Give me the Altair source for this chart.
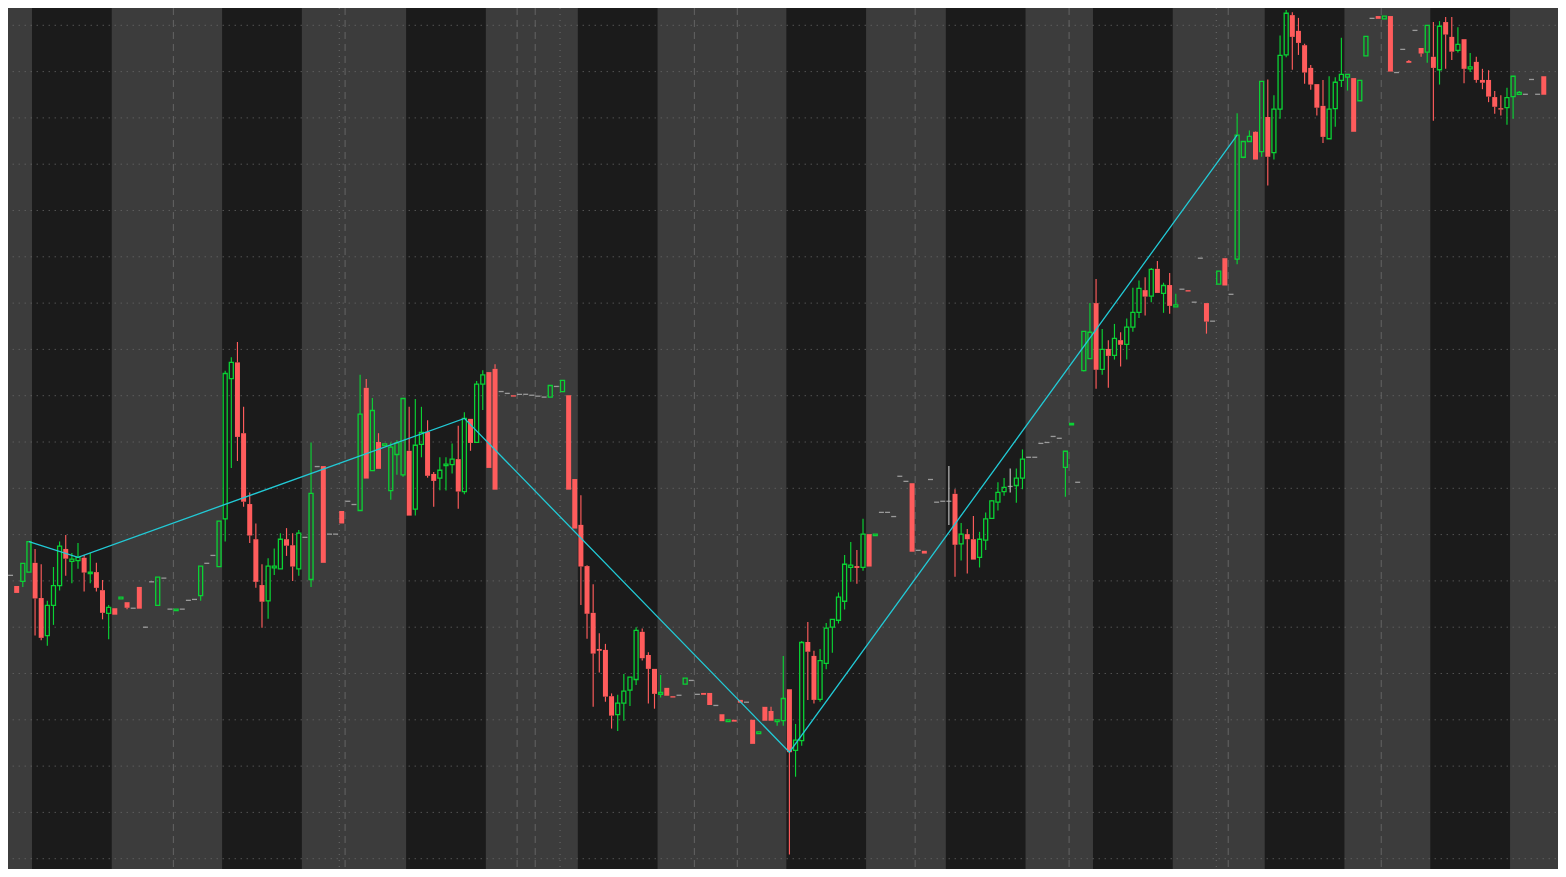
import altair as alt
import pandas as pd
import numpy as np

# ---------------- data (30-min bars) ----------------
opens = [
    108.12,108.12,107.89,107.99,108.19,108.39,107.63,106.82,107.47,107.90,
    108.69,108.42,108.44,108.50,108.16,108.19,107.80,107.30,107.41,107.61,
    107.54,107.41,107.87,107.00,107.98,107.47,108.06,107.39,107.36,107.39,
    107.58,107.60,107.68,108.38,108.55,108.31,109.34,112.37,112.72,111.19,
    109.66,108.90,107.91,107.57,108.28,108.26,108.90,108.77,108.26,108.94,
    108.03,110.47,110.48,109.01,109.01,109.51,109.72,109.65,109.52,112.17,
    110.38,111.00,110.92,109.95,110.73,110.29,110.81,109.55,110.95,111.22,
    110.31,110.22,110.49,110.51,110.63,109.93,111.50,110.99,112.25,112.51,
    112.58,112.09,112.05,112.01,112.03,112.03,112.01,111.99,111.97,111.97,
    112.20,112.09,112.01,110.20,109.21,108.32,107.31,106.53,106.51,105.51,
    105.11,105.36,105.64,105.87,106.90,106.40,106.10,105.55,105.69,105.51,
    105.53,105.77,105.85,105.55,105.58,105.58,105.31,105.12,104.96,105.00,
    105.43,105.38,105.00,104.70,105.28,105.19,104.96,104.98,105.66,104.34,
    104.55,106.68,106.38,105.44,106.22,107.00,107.15,107.56,108.29,108.32,
    108.29,109.01,108.98,109.48,109.48,109.39,110.26,110.15,110.11,108.66,
    108.65,110.19,109.70,109.72,109.72,109.88,108.80,109.01,108.90,108.51,
    108.88,109.35,109.70,109.93,110.04,110.06,110.22,110.67,110.67,110.97,
    110.99,111.12,111.08,110.45,111.37,110.13,112.54,112.80,114.00,112.57,
    113.01,112.87,113.20,113.11,113.48,113.80,114.28,114.15,114.74,114.21,
    114.39,113.92,114.30,114.28,114.02,114.97,114.00,113.61,114.41,114.97,
    114.19,114.95,117.15,117.49,117.70,117.27,118.02,117.25,118.19,119.36,
    120.22,119.88,119.57,119.08,118.73,118.26,117.55,118.20,118.81,118.88,
    118.86,118.37,119.34,120.15,120.20,120.14,120.20,118.98,119.48,119.23,
    119.89,119.51,119.42,119.32,119.04,120.07,119.75,119.46,119.70,119.06,
    119.21,118.82,118.82,118.45,118.21,118.22,118.46,118.51,118.51,118.83,
    118.51,118.90,
]
highs = [
    108.12,108.12,107.89,108.38,108.85,108.69,108.36,107.57,108.30,108.85,
    108.99,108.60,108.82,108.56,108.60,108.39,108.02,107.48,107.41,107.65,
    107.54,107.41,107.87,107.00,107.98,108.08,108.06,107.39,107.39,107.39,
    107.58,107.60,108.32,108.38,108.55,109.29,112.54,112.83,113.16,111.76,
    109.91,109.24,108.36,108.49,108.70,109.03,109.14,109.03,109.10,108.94,
    110.99,110.47,110.48,109.01,109.01,109.51,109.72,109.65,112.45,112.36,
    111.95,111.19,110.96,110.99,111.04,111.94,111.76,111.93,111.76,111.47,
    110.35,110.67,110.67,110.97,111.35,111.64,111.50,112.32,112.55,112.51,
    112.68,112.09,112.05,112.01,112.03,112.03,112.01,111.99,111.97,112.22,
    112.20,112.33,112.01,110.20,109.85,108.34,107.93,106.87,106.64,105.57,
    105.54,105.99,105.92,107.00,106.97,106.46,106.10,105.97,105.69,105.51,
    105.53,105.90,105.85,105.55,105.58,105.58,105.31,105.12,105.00,105.00,
    105.43,105.38,105.00,104.74,105.28,105.28,105.00,106.38,105.66,104.91,
    106.70,107.11,106.49,106.53,107.09,107.17,107.75,108.56,108.84,108.67,
    109.34,109.01,109.01,109.48,109.48,109.39,110.26,110.15,110.11,108.66,
    108.65,110.19,109.70,109.72,110.48,109.98,109.25,109.12,109.40,109.06,
    109.48,109.75,110.13,110.22,110.43,110.43,110.84,110.67,110.67,110.97,
    110.99,111.12,111.08,110.80,111.40,110.13,113.39,114.00,114.52,113.44,
    113.20,113.55,113.37,113.67,114.33,114.49,114.56,114.76,114.91,114.44,
    114.65,114.20,114.30,114.28,114.02,114.97,114.00,113.61,114.69,114.97,
    114.19,118.10,117.49,117.73,117.71,118.79,118.83,118.49,119.78,120.33,
    120.28,120.16,119.60,119.14,118.73,118.82,118.90,118.88,119.73,118.94,
    118.86,118.81,119.76,120.15,120.20,120.20,120.20,118.98,119.48,119.25,
    119.89,119.51,120.00,120.07,120.09,120.18,120.18,119.96,119.70,119.40,
    119.32,119.06,119.03,118.58,118.49,118.65,118.90,118.58,118.51,118.83,
    118.51,118.90,
]
lows = [
    108.12,108.12,107.74,107.87,108.19,106.82,106.72,106.60,107.05,107.79,
    108.11,107.95,108.26,107.77,107.95,107.77,107.17,106.74,107.27,107.61,
    107.39,107.41,107.40,107.00,107.98,107.47,108.06,107.39,107.36,107.39,
    107.58,107.60,107.57,108.38,108.55,108.31,108.85,110.44,110.59,109.60,
    108.82,107.85,106.99,107.18,108.13,108.26,108.54,108.00,108.11,108.94,
    107.87,110.47,108.39,109.01,109.01,109.24,109.72,109.65,109.52,110.21,
    110.38,110.42,110.92,109.75,110.29,110.25,109.41,109.41,110.67,110.23,
    109.60,109.96,109.95,110.32,109.56,109.87,110.81,110.99,111.69,110.44,
    109.97,112.09,112.05,111.98,112.03,112.03,112.01,111.99,111.97,111.97,
    112.20,112.09,109.97,109.13,107.48,106.75,105.28,106.02,105.39,104.81,
    104.76,104.98,105.30,105.75,106.28,105.35,105.24,105.48,105.52,105.48,
    105.53,105.77,105.85,105.55,105.54,105.32,105.31,104.97,104.96,104.96,
    105.37,105.38,104.48,104.70,104.98,104.98,104.87,104.87,102.09,103.77,
    104.44,105.43,105.35,105.39,106.09,106.45,107.08,107.38,107.98,107.94,
    108.22,108.31,108.98,109.48,109.48,109.39,110.26,110.15,108.63,108.66,
    108.59,110.19,109.70,109.72,109.21,108.09,108.44,108.16,108.46,108.29,
    108.67,109.35,109.52,109.84,109.91,109.69,109.98,110.67,110.67,110.97,
    110.99,111.12,111.08,109.82,111.37,110.13,112.52,112.80,112.15,112.45,
    112.17,112.78,112.63,112.78,113.38,113.68,113.73,114.02,114.22,113.79,
    113.77,113.92,114.30,114.25,114.02,114.97,113.34,113.61,114.41,114.38,
    114.19,114.84,117.13,117.49,117.10,117.16,116.54,117.10,117.98,119.31,
    119.04,119.36,118.74,118.61,118.05,117.46,117.55,117.81,118.67,118.59,
    117.70,118.37,119.34,120.15,120.14,120.14,119.00,118.98,119.48,119.19,
    119.89,119.32,119.19,117.94,118.72,119.06,119.25,119.41,118.75,118.99,
    118.76,118.62,118.34,118.09,118.05,117.85,117.98,118.51,118.51,118.83,
    118.51,118.50,
]
closes = [
    108.12,108.12,107.74,108.38,108.85,107.62,106.77,107.47,107.90,108.75,
    108.48,108.47,108.51,108.18,108.19,107.85,107.31,107.43,107.27,107.65,
    107.42,107.41,107.40,107.00,107.98,108.08,108.06,107.39,107.39,107.39,
    107.58,107.60,108.32,108.38,108.55,109.29,112.48,112.72,111.11,109.71,
    108.98,107.98,107.55,108.32,108.32,108.90,108.76,108.31,109.03,108.94,
    109.89,110.47,108.39,109.01,109.01,109.24,109.72,109.65,111.60,110.21,
    111.68,110.42,110.96,110.89,110.98,111.94,109.41,110.93,111.21,110.27,
    110.16,110.39,110.52,110.63,109.93,111.51,110.98,112.25,112.45,110.44,
    109.97,112.09,112.05,111.98,112.03,112.03,112.01,111.99,111.97,112.22,
    112.20,112.33,109.97,109.13,108.31,107.29,106.43,106.49,105.50,105.09,
    105.36,105.62,105.92,106.93,106.33,106.10,105.56,105.59,105.52,105.48,
    105.53,105.90,105.85,105.55,105.54,105.32,105.31,104.97,105.00,104.96,
    105.37,105.38,104.48,104.74,104.98,104.98,105.00,105.46,104.30,104.56,
    106.67,106.47,105.43,106.28,106.98,107.17,107.65,108.36,108.34,108.28,
    109.01,108.31,109.01,109.48,109.48,109.39,110.26,110.15,108.63,108.66,
    108.59,110.19,109.70,109.72,109.72,108.78,109.01,108.90,108.46,108.90,
    109.34,109.73,109.91,110.02,110.04,110.22,110.63,110.67,110.67,110.97,
    110.99,111.12,111.08,110.80,111.40,110.13,113.39,113.37,112.56,113.00,
    112.86,113.24,113.10,113.48,113.80,114.32,114.14,114.73,114.22,114.38,
    113.94,113.96,114.30,114.25,114.02,114.97,113.60,113.61,114.69,114.38,
    114.19,117.63,117.49,117.60,117.10,118.79,117.16,118.19,119.35,120.26,
    119.75,119.62,118.98,118.72,118.22,117.59,118.19,118.77,118.94,118.94,
    117.70,118.81,119.76,120.15,120.14,120.20,119.00,118.98,119.48,119.19,
    119.89,119.39,120.00,119.08,119.98,119.80,119.43,119.59,119.06,119.10,
    118.82,118.76,118.46,118.24,118.18,118.44,118.90,118.55,118.51,118.83,
    118.51,118.50,
]
# zigzag pivots (bar numbers, drawn through the closes)
pivot_bars = [4, 12, 75, 128, 201]
# regular-session bar ranges (dark columns)
session_starts = [5, 36, 66, 94, 128, 154, 178, 206, 233]
session_ends = [17, 48, 78, 106, 140, 166, 190, 218, 245]
# vertical separators (bar positions)
dashed_lines = [27.55, 55.55, 83.6, 86.55, 112.5, 119.5, 148.5, 173.6, 199.55, 224.5]
dotted_lines = [54.6, 90.6, 197.6]
# horizontal price levels
price_levels = [102, 103, 104, 105, 106, 107, 108, 109, 110, 111,
                112, 113, 114, 115, 116, 117, 118, 119, 120]

assert len(opens) == len(highs) == len(lows) == len(closes)

# ---------------- styling ----------------
W, H = 1550, 861
X_DOMAIN = [0.587, 253.32]
Y_DOMAIN = [101.7775, 120.3737]
GREEN = "#0ad234"
RED = "#ff5c5c"
GRAY = "#c2c2c2"
LIGHT_BG = "#3c3c3c"
DARK_BG = "#1b1b1b"

xs = alt.Scale(domain=X_DOMAIN, nice=False, zero=False, padding=0)
ys = alt.Scale(domain=Y_DOMAIN, nice=False, zero=False, padding=0)

n = len(opens)
df = pd.DataFrame({"i": np.arange(n), "o": opens, "h": highs, "l": lows, "c": closes})
df["top"] = df[["o", "c"]].max(axis=1)
df["bot"] = df[["o", "c"]].min(axis=1)
df["kind"] = np.where(df["c"] > df["o"], "up", np.where(df["c"] < df["o"], "down", "flat"))

bands_df = pd.DataFrame({"x0": [s - 0.5 for s in session_starts],
                         "x1": [e + 0.5 for e in session_ends]})
levels_df = pd.DataFrame({"p": price_levels})
dash_df = pd.DataFrame({"b": dashed_lines})
dot_df = pd.DataFrame({"b": dotted_lines})
piv_df = pd.DataFrame({"i": pivot_bars, "c": [closes[b] for b in pivot_bars]})

cscale = alt.Scale(domain=["up", "down", "flat"], range=[GREEN, RED, GRAY])

bands = alt.Chart(bands_df).mark_rect(color=DARK_BG).encode(
    x=alt.X("x0:Q", scale=xs, axis=None), x2="x1:Q",
    y=alt.value(0), y2=alt.value(H))

hgrid = alt.Chart(levels_df).mark_rule(
    color="#6c6c6c", strokeWidth=1, strokeDash=[1, 5], strokeDashOffset=3.7
).encode(y=alt.Y("p:Q", scale=ys, axis=None))

vdash = alt.Chart(dash_df).mark_rule(
    color="#646464", strokeWidth=1, strokeDash=[7, 5]
).encode(x=alt.X("b:Q", scale=xs, axis=None))

vdot = alt.Chart(dot_df).mark_rule(
    color="#6c6c6c", strokeWidth=1, strokeDash=[1, 5]
).encode(x=alt.X("b:Q", scale=xs, axis=None))

base = alt.Chart(df)

wick_up = base.mark_rule(strokeWidth=1.15, clip=True).encode(
    x=alt.X("i:Q", scale=xs, axis=None),
    y=alt.Y("h:Q", scale=ys, axis=None), y2="top:Q",
    color=alt.Color("kind:N", scale=cscale, legend=None))

wick_dn = base.mark_rule(strokeWidth=1.15, clip=True).encode(
    x=alt.X("i:Q", scale=xs, axis=None),
    y=alt.Y("bot:Q", scale=ys, axis=None), y2="l:Q",
    color=alt.Color("kind:N", scale=cscale, legend=None))

body_up = base.transform_filter(alt.datum.kind == "up").mark_bar(
    filled=False, size=4, strokeWidth=1.3, color=GREEN, clip=True
).encode(
    x=alt.X("i:Q", scale=xs, axis=None),
    y=alt.Y("top:Q", scale=ys, axis=None), y2="bot:Q")

body_dn = base.transform_filter(alt.datum.kind == "down").mark_bar(
    size=5, color=RED, clip=True
).encode(
    x=alt.X("i:Q", scale=xs, axis=None),
    y=alt.Y("top:Q", scale=ys, axis=None), y2="bot:Q")

flat = base.transform_filter(alt.datum.kind == "flat").mark_tick(
    orient="horizontal", size=5, thickness=1.3, color=GRAY, clip=True
).encode(
    x=alt.X("i:Q", scale=xs, axis=None),
    y=alt.Y("c:Q", scale=ys, axis=None))

zig = alt.Chart(piv_df).mark_line(color="#22cad6", strokeWidth=1.3).encode(
    x=alt.X("i:Q", scale=xs, axis=None),
    y=alt.Y("c:Q", scale=ys, axis=None))

chart = alt.layer(
    bands, hgrid, vdash, vdot, wick_up, wick_dn, body_dn, body_up, flat, zig
).properties(
    width=W, height=H, padding=0,
    autosize=alt.AutoSizeParams(type="none"),
    background=LIGHT_BG,
).configure_view(strokeWidth=0)

chart.save("out.html", embed_options={"renderer": "svg", "actions": False})
